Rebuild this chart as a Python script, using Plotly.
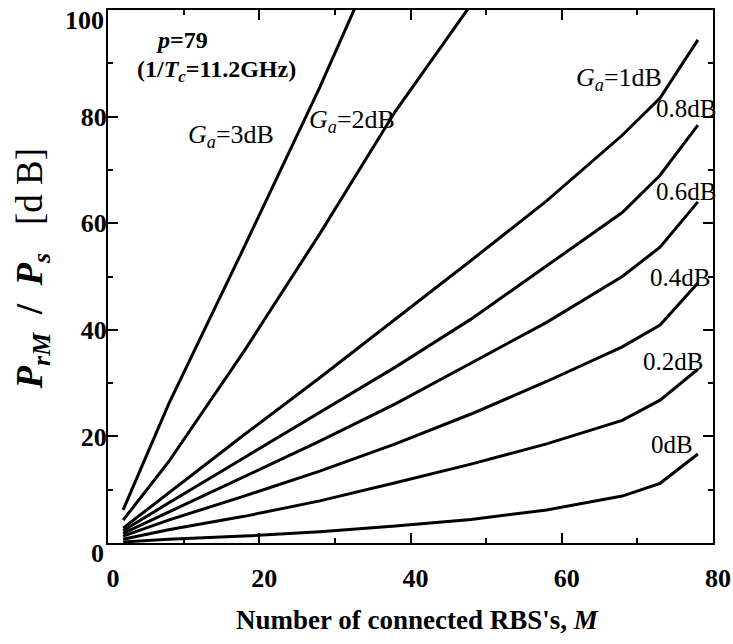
import plotly.graph_objects as go

# Number of connected RBS's, M (sample points)
M = [2, 8, 18, 28, 38, 48, 58, 68, 73, 78]

# Pr_M / Ps [dB] for each antenna gain Ga
ga_3db_m = [2, 8, 18, 28, 33]
ga_3db = [6.2, 26.0, 55.5, 85.5, 101.5]
ga_2db_m = [2, 8, 18, 28, 38, 48]
ga_2db = [4.3, 15.2, 36.0, 58.0, 81.0, 101.0]
ga_1db = [2.8, 9.4, 20.3, 31.0, 42.0, 53.0, 64.2, 76.5, 83.5, 94.4]
ga_08db = [2.3, 7.5, 16.0, 24.5, 33.0, 42.0, 52.0, 62.0, 69.0, 78.4]
ga_06db = [1.8, 5.8, 12.5, 19.1, 26.1, 33.8, 41.4, 50.0, 55.5, 64.0]
ga_04db = [1.3, 4.3, 8.8, 13.5, 18.6, 24.2, 30.3, 36.8, 40.9, 48.8]
ga_02db = [0.7, 2.5, 5.0, 7.9, 11.3, 14.8, 18.6, 23.0, 26.8, 32.6]
ga_0db = [0.2, 0.7, 1.3, 2.1, 3.2, 4.4, 6.2, 8.8, 11.2, 16.7]

x_ticks = [0, 20, 40, 60, 80]
y_ticks = [20, 40, 60, 80]          # inner y labels (ends drawn separately)
y_end_labels = ["0", "100"]

series = [
    ("Ga=3dB", ga_3db_m, ga_3db),
    ("Ga=2dB", ga_2db_m, ga_2db),
    ("Ga=1dB", M, ga_1db),
    ("0.8dB", M, ga_08db),
    ("0.6dB", M, ga_06db),
    ("0.4dB", M, ga_04db),
    ("0.2dB", M, ga_02db),
    ("0dB", M, ga_0db),
]

FONT = "Liberation Serif"

fig = go.Figure()
for name, xs, ys in series:
    fig.add_trace(go.Scatter(x=xs, y=ys, mode="lines", name=name,
                             line=dict(color="black", width=3),
                             showlegend=False))

axis_common = dict(
    showgrid=False, zeroline=False, showline=True, linecolor="black",
    linewidth=2, mirror="ticks", ticks="inside", ticklen=10, tickwidth=2,
    tickcolor="black", ticklabeloverflow="allow", automargin=False,
    tickfont=dict(family=FONT, size=26, color="black", weight="bold"),
    minor=dict(ticks="inside", ticklen=5, tickwidth=1.5, tickcolor="black", dtick=10),
)

fig.update_xaxes(range=[0, 80], tickvals=x_ticks, ticktext=[str(v) for v in x_ticks],
                 ticklabelstandoff=11, ticklabelshift=5, **axis_common)
fig.update_yaxes(range=[0, 100], tickvals=y_ticks, ticktext=[str(v) for v in y_ticks],
                 ticklabelstandoff=-6, **axis_common)

# end labels of the y axis (slightly offset inward, as in the original)
for txt, yp in zip(y_end_labels, [-0.019, 0.981]):
    fig.add_annotation(text=f"<b>{txt}</b>", x=-0.003, y=yp, xref="paper", yref="paper",
                       xanchor="right", yanchor="middle", showarrow=False,
                       font=dict(family=FONT, size=26, color="black"))

annots = [
    ("<b><i>p</i>=79</b>", 0.122, 0.944, 24),
    ("<b>(1/<i>T<sub>c</sub></i>=11.2GHz)</b>", 0.180, 0.886, 24),
    ("<i>G<sub>a</sub></i>=3dB", 0.204, 0.764, 26),
    ("<i>G<sub>a</sub></i>=2dB", 0.404, 0.792, 26),
    ("<i>G<sub>a</sub></i>=1dB", 0.844, 0.871, 26),
    ("0.8dB", 0.955, 0.816, 25),
    ("0.6dB", 0.955, 0.660, 25),
    ("0.4dB", 0.945, 0.499, 25),
    ("0.2dB", 0.934, 0.340, 25),
    ("0dB", 0.933, 0.184, 25),
]
for text, x, y, size in annots:
    fig.add_annotation(text=text, x=x, y=y, xref="paper", yref="paper",
                       xanchor="center", yanchor="middle", showarrow=False,
                       font=dict(family=FONT, size=size, color="black"))

# axis titles
fig.add_annotation(text="<b>Number of connected RBS's, <i>M</i></b>",
                   x=0.511, y=-0.144, xref="paper", yref="paper",
                   xanchor="center", yanchor="middle", showarrow=False,
                   font=dict(family=FONT, size=27, color="black"))
fig.add_annotation(text="<b><i>P</i><sub><i>rM</i></sub>&nbsp;&nbsp;/&nbsp;&nbsp;<i>P<sub>s</sub></i></b>&nbsp;&nbsp;&nbsp;[d&nbsp;B]",
                   x=-0.124, y=0.515, xref="paper", yref="paper", textangle=-90,
                   xanchor="center", yanchor="middle", showarrow=False,
                   font=dict(family=FONT, size=37, color="black"))

fig.update_layout(
    width=733, height=644,
    margin=dict(l=108, r=20, t=10, b=101),
    plot_bgcolor="white", paper_bgcolor="white",
)

# remove the browser's default body margin so the figure fills the window exactly
fig.write_html("out.html", config={"displayModeBar": False},
               post_script="document.body.style.margin='0';document.body.style.overflow='hidden';")
